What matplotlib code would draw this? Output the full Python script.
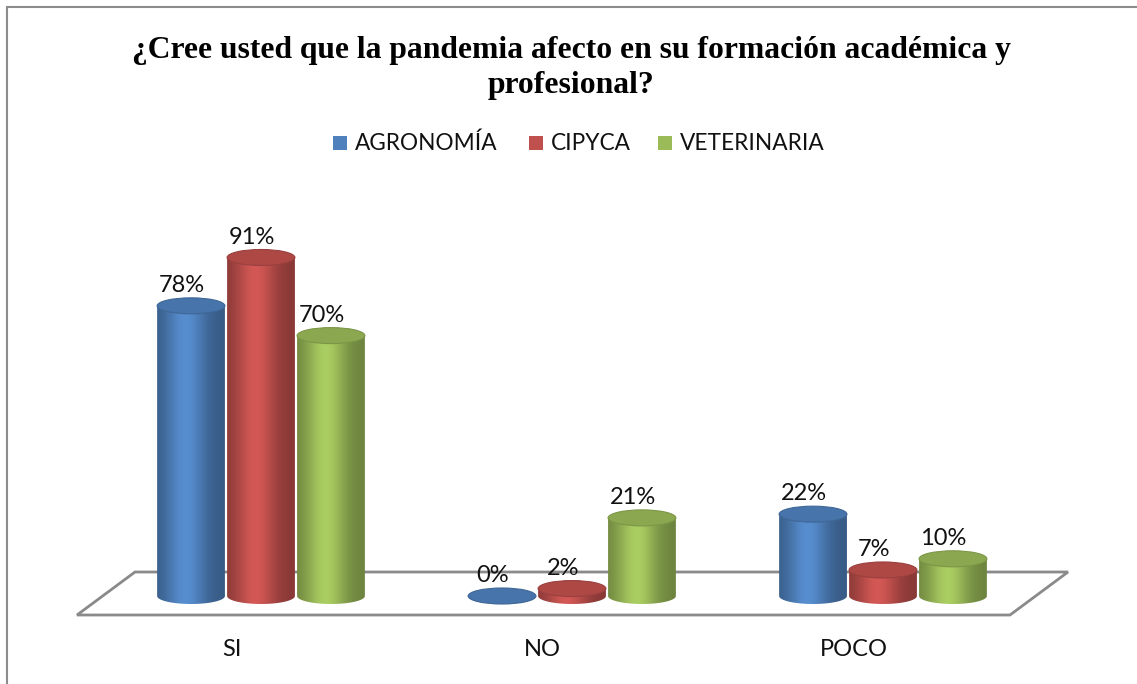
import matplotlib
matplotlib.use("Agg")
import matplotlib.pyplot as plt
import numpy as np
from matplotlib.patches import Polygon, Ellipse, Rectangle
from matplotlib.colors import to_rgb

CATEGORIES = ["SI", "NO", "POCO"]
SERIES = ["AGRONOMÍA", "CIPYCA", "VETERINARIA"]
AGRONOMIA = [78, 0, 22]
CIPYCA = [91, 2, 7]
VETERINARIA = [70, 21, 10]
COLORS = ["#4F81BD", "#C0504D", "#9BBB59"]

W, H = 1137, 684
PX_X = 311.0   # pixels per category
PX_Y = 3.72    # pixels per percent
X0, Y0 = 261.0, 596.0  # pixel of category 0 / value 0

fig = plt.figure(figsize=(W / 100, H / 100), dpi=100)
ax = fig.add_axes([0, 0, 1, 1])
ax.set_xlim(-X0 / PX_X, (W - X0) / PX_X)
ax.set_ylim((Y0 - H) / PX_Y, Y0 / PX_Y)
ax.axis("off")

def px(x, y):
    return (x - X0) / PX_X, (Y0 - y) / PX_Y

# outer border (left and top visible)
fig.add_artist(Rectangle((6.5 / W, -0.1), 1.2, 1 - 6.5 / H + 0.1, transform=fig.transFigure,
                         fill=False, edgecolor="#8c8c8c", lw=1.5))

# floor
floor = [px(135, 572), px(1068, 572), px(1010, 615), px(77, 615)]
ax.add_patch(Polygon(floor, closed=True, facecolor="white", edgecolor="#8a8a8a", lw=2, zorder=1))

bw = 0.218           # bar width in category units
step = 0.225         # series offset
eh = 16 / PX_Y       # ellipse height in % units

def shade(color, n=64):
    c = np.array(to_rgb(color))
    t = np.linspace(0, 1, n)
    prof = 0.70 + 0.40 * np.exp(-((t - 0.42) / 0.30) ** 2)
    img = np.clip(c[None, :] * prof[:, None], 0, 1)
    return img[None, :, :]

def cylinder(xc, val, color, z):
    x1, x2 = xc - bw / 2, xc + bw / 2
    th = np.linspace(np.pi, 2 * np.pi, 60)
    bottom = [(xc + bw / 2 * np.cos(a), eh / 2 * np.sin(a)) for a in th]
    pts = [(x1, val)] + bottom + [(x2, val)]
    body = Polygon(pts, closed=True, facecolor="none", edgecolor="none", zorder=z)
    ax.add_patch(body)
    im = ax.imshow(shade(color), extent=(x1, x2, -eh, val + eh), aspect="auto",
                   interpolation="bilinear", zorder=z)
    im.set_clip_path(body)
    c = np.array(to_rgb(color))
    top = Ellipse((xc, val), bw, eh, facecolor=np.clip(c * 0.9, 0, 1),
                  edgecolor=np.clip(c * 0.8, 0, 1), lw=0.8, zorder=z + 0.1)
    ax.add_patch(top)

values = [AGRONOMIA, CIPYCA, VETERINARIA]
for i in range(len(CATEGORIES)):
    for s, (vals, col) in enumerate(zip(values, COLORS)):
        xc = i + (s - 1) * step
        cylinder(xc, vals[i], col, 2 + s)
        ax.text(xc - 0.03, vals[i] + 5.5, f"{vals[i]}%", ha="center", va="center",
                fontsize=17, family="Lato", color="#111111", zorder=10)
    ax.text(i - 0.095, (Y0 - 650) / PX_Y, CATEGORIES[i], ha="center", va="center",
            fontsize=17, family="Lato", color="#111111")

fig.text(571 / W, 1 - 68 / H, "¿Cree usted que la pandemia afecto en su formación académica y\nprofesional?",
         ha="center", va="center", fontsize=22.8, fontweight="bold", family="Liberation Serif",
         linespacing=1.25)

# legend
leg_x = [333, 529, 658]
for name, col, lx in zip(SERIES, COLORS, leg_x):
    fig.add_artist(Rectangle((lx / W, 1 - 150 / H), 14 / W, 14 / H, transform=fig.transFigure,
                             facecolor=col, edgecolor="none"))
    fig.text((lx + 22) / W, 1 - 143 / H, name, ha="left", va="center", fontsize=16.3,
             family="Lato", color="#111111")

fig.savefig("out.png", dpi=100)
